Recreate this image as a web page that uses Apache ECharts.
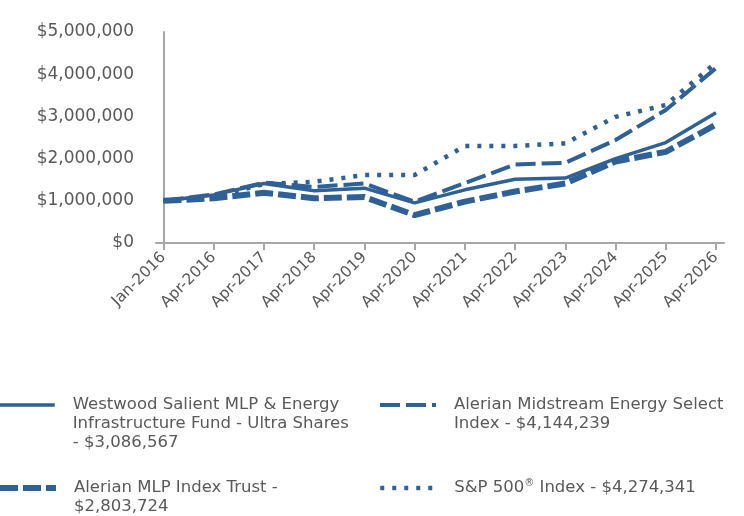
<!DOCTYPE html>
<html>
<head>
<meta charset="utf-8">
<script src="https://cdn.jsdelivr.net/npm/echarts@6/dist/echarts.min.js"></script>
<style>
  html, body { margin: 0; padding: 0; background: #fff; }
  #chart { width: 744px; height: 516px; }
</style>
</head>
<body>
<div id="chart"></div>
<script>
const categories = ["Jan-2016", "Apr-2016", "Apr-2017", "Apr-2018", "Apr-2019", "Apr-2020",
  "Apr-2021", "Apr-2022", "Apr-2023", "Apr-2024", "Apr-2025", "Apr-2026"];

const fundUltra = [1000000, 1140000, 1410000, 1240000, 1300000, 950000,
  1260000, 1510000, 1540000, 2000000, 2380000, 3086567];
const midstreamIndex = [1000000, 1150000, 1430000, 1330000, 1410000, 980000,
  1420000, 1860000, 1900000, 2440000, 3150000, 4144239];
const mlpTrust = [1000000, 1060000, 1190000, 1060000, 1090000, 660000,
  980000, 1220000, 1410000, 1930000, 2160000, 2803724];
const sp500 = [1000000, 1090000, 1400000, 1450000, 1610000, 1610000,
  2300000, 2300000, 2360000, 2990000, 3270000, 4274341];

const yTicks = [0, 1000000, 2000000, 3000000, 4000000, 5000000];

const seriesNames = ["Fund", "Midstream", "MLP", "SP500"];
const legendTexts = [
  "Westwood Salient MLP & Energy\nInfrastructure Fund - Ultra Shares\n- $3,086,567",
  "Alerian Midstream Energy Select\nIndex - $4,144,239",
  "Alerian MLP Index Trust -\n$2,803,724",
  "S&P 500{sup|®} Index - $4,274,341"
];

const BLUE = "#2f6096";
const GREY_TEXT = "#595959";
const FONT = "DejaVu Sans, sans-serif";

const lineStyles = [
  { color: BLUE, width: 3.5, type: "solid" },
  { color: BLUE, width: 4, type: [20, 6] },
  { color: BLUE, width: 6, type: [18, 5] },
  { color: BLUE, width: 4.5, type: [4, 8] }
];

const toPoints = (arr) => arr.map((v, i) => [i, v]);
const money = (v) => "$" + v.toLocaleString("en-US");

const chart = echarts.init(document.getElementById("chart"));

// icon centre sits in the middle of the text box; top padding pulls the first line onto it
function legendAt(idx, left, iconY) {
  const lines = legendTexts[idx].split("\n").length;
  const pad = (lines - 1) * 19;
  const boxH = Math.max(14, pad + lines * 19);
  return {
    left: left,
    top: iconY - boxH / 2,
    padding: 0,
    itemWidth: 56,
    itemHeight: 14,
    selectedMode: false,
    itemStyle: { opacity: 0 },
    lineStyle: Object.assign({}, lineStyles[idx]),
    data: [seriesNames[idx]],
    formatter: () => legendTexts[idx],
    textStyle: {
      color: GREY_TEXT,
      fontFamily: FONT,
      fontSize: 16.5,
      lineHeight: 19,
      padding: [pad, 0, 0, 13],
      rich: {
        sup: { fontFamily: FONT, fontSize: 10, lineHeight: 19, padding: [0, 0, 9, 0], color: GREY_TEXT }
      }
    }
  };
}

chart.setOption({
  animation: false,
  backgroundColor: "#fff",
  grid: { left: 156, right: 20, top: 32, bottom: 273 },
  xAxis: {
    type: "value",
    min: -0.149,
    max: 11.16,
    splitLine: { show: false },
    axisLine: { show: true, lineStyle: { color: "#a6a6a6", width: 2 } },
    axisTick: {
      show: true,
      customValues: categories.map((c, i) => i),
      length: 7,
      lineStyle: { color: "#a6a6a6", width: 2 }
    },
    axisLabel: {
      customValues: categories.map((c, i) => i),
      formatter: (v) => categories[Math.round(v)],
      rotate: 45,
      margin: 12,
      color: GREY_TEXT,
      fontFamily: FONT,
      fontSize: 15.5
    }
  },
  yAxis: {
    type: "value",
    min: 0,
    max: 5000000,
    interval: 1000000,
    splitLine: { show: false },
    axisLine: { show: true, lineStyle: { color: "#a6a6a6", width: 2 } },
    axisTick: { show: false },
    axisLabel: {
      margin: 22,
      color: GREY_TEXT,
      fontFamily: FONT,
      fontSize: 17,
      formatter: (v) => yTicks.includes(v) ? money(v) : ""
    }
  },
  legend: [
    legendAt(0, -3, 405),
    legendAt(1, 378, 405),
    legendAt(2, -3, 488),
    legendAt(3, 378, 488)
  ],
  series: [
    { name: seriesNames[0], type: "line", data: toPoints(fundUltra), symbol: "none", z: 4,
      lineStyle: lineStyles[0], itemStyle: { color: BLUE } },
    { name: seriesNames[1], type: "line", data: toPoints(midstreamIndex), symbol: "none", z: 3,
      lineStyle: lineStyles[1], itemStyle: { color: BLUE } },
    { name: seriesNames[2], type: "line", data: toPoints(mlpTrust), symbol: "none", z: 2,
      lineStyle: lineStyles[2], itemStyle: { color: BLUE } },
    { name: seriesNames[3], type: "line", data: toPoints(sp500), symbol: "none", z: 1,
      lineStyle: lineStyles[3], itemStyle: { color: BLUE } }
  ]
});
</script>
</body>
</html>
